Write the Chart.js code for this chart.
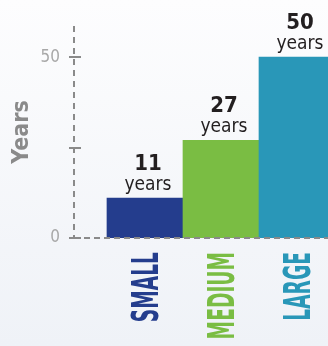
<!DOCTYPE html>
<html>
<head>
<meta charset="utf-8">
<script src="https://cdn.jsdelivr.net/npm/chart.js@4"></script>
<style>
  html, body { margin: 0; padding: 0; overflow: hidden; }
  body { width: 328px; height: 346px; background: linear-gradient(#fdfdfe, #eff2f7); }
  canvas { display: block; }
</style>
</head>
<body>
<canvas id="myChart" width="328" height="346"></canvas>
<script>
const categories = ["SMALL", "MEDIUM", "LARGE"]
const years = [11, 27, 50]
const barColors = ["#243d8d", "#7abd43", "#2997b8"]
const yTicks = [0, 25, 50]
const yTickLabels = ["0", "", "50"]
const unitLabel = "years"
const yTitle = "Years"

const NARROW = '"Liberation Sans Narrow", "DejaVu Sans Condensed", sans-serif'
const axisGray = "#8a8a8a"
const X_MIN = -0.934
const X_MAX = 2.408

// dashed axis lines + little crosses on the y axis (drawn over the bars)
const axisLines = {
  id: "axisLines",
  afterDatasetsDraw(chart) {
    const { ctx, chartArea, scales } = chart
    const ax = chartArea.left
    const base = Math.round(scales.y.getPixelForValue(0))
    ctx.save()
    ctx.strokeStyle = axisGray
    ctx.lineWidth = 2
    ctx.setLineDash([6, 5])
    ctx.beginPath()
    ctx.moveTo(ax, chartArea.top)
    ctx.lineTo(ax, base)
    ctx.stroke()
    ctx.setLineDash([6, 4])
    ctx.beginPath()
    ctx.moveTo(ax, base)
    ctx.lineTo(chartArea.right, base)
    ctx.stroke()
    ctx.setLineDash([])
    yTicks.forEach(v => {
      const py = Math.round(scales.y.getPixelForValue(v))
      ctx.beginPath()
      ctx.moveTo(ax - 5, py)
      ctx.lineTo(ax + 7, py)
      ctx.stroke()
    })
    ctx.restore()
  }
}

// "11 years" above bars and the rotated category names under them
const barText = {
  id: "barText",
  afterDraw(chart) {
    const { ctx, chartArea, scales } = chart
    const meta = chart.getDatasetMeta(0)
    ctx.save()
    meta.data.forEach((bar, i) => {
      const cx = bar.x + 3
      ctx.textAlign = "center"
      ctx.textBaseline = "alphabetic"
      ctx.fillStyle = "#231f20"
      ctx.font = "bold 22px " + NARROW
      ctx.fillText(String(years[i]), cx, bar.y - 28)
      ctx.font = "19px " + NARROW
      ctx.fillText(unitLabel, cx, bar.y - 8)
    })
    categories.forEach((c, i) => {
      const px = scales.x.getPixelForValue(i)
      ctx.save()
      ctx.translate(px, chartArea.bottom + 14)
      ctx.rotate(-Math.PI / 2)
      ctx.scale(0.56, 1)
      ctx.font = "bold 37px " + NARROW
      ctx.fillStyle = barColors[i]
      ctx.textAlign = "right"
      ctx.textBaseline = "alphabetic"
      ctx.fillText(c, 0, 13.5)
      ctx.restore()
    })
    ctx.restore()
  }
}

const ctx = document.getElementById("myChart").getContext("2d")
new Chart(ctx, {
  type: "bar",
  data: {
    datasets: [
      {
        label: yTitle,
        data: categories.map((c, i) => ({ x: i, y: years[i] })),
        backgroundColor: barColors,
        borderWidth: 0,
        barPercentage: 1,
        categoryPercentage: 1
      }
    ]
  },
  options: {
    responsive: false,
    animation: false,
    layout: { padding: { top: 26, right: 0, left: 0, bottom: 0 } },
    plugins: { legend: { display: false }, tooltip: { enabled: false } },
    scales: {
      x: {
        type: "linear",
        offset: false,
        min: X_MIN,
        max: X_MAX,
        afterBuildTicks: s => {
          s.ticks = categories.map((c, i) => ({ value: i }))
          s.min = X_MIN
          s.max = X_MAX
        },
        afterFit: s => { s.height = 108 },
        grid: { display: false, offset: false },
        ticks: { display: false },
        border: { display: false }
      },
      y: {
        min: 0,
        max: 58.6,
        afterBuildTicks: s => { s.ticks = yTicks.map(v => ({ value: v })) },
        afterFit: s => { s.width = 74 },
        grid: { display: false, drawTicks: false },
        border: { display: false },
        ticks: {
          padding: 14,
          color: "#a8a8a8",
          font: { family: NARROW, size: 17 },
          callback: (v, i) => yTickLabels[i]
        },
        title: {
          display: true,
          text: yTitle,
          color: axisGray,
          padding: { top: 8, bottom: 0 },
          font: { family: NARROW, size: 23, weight: "bold" }
        }
      }
    }
  },
  plugins: [axisLines, barText]
})
</script>
</body>
</html>
